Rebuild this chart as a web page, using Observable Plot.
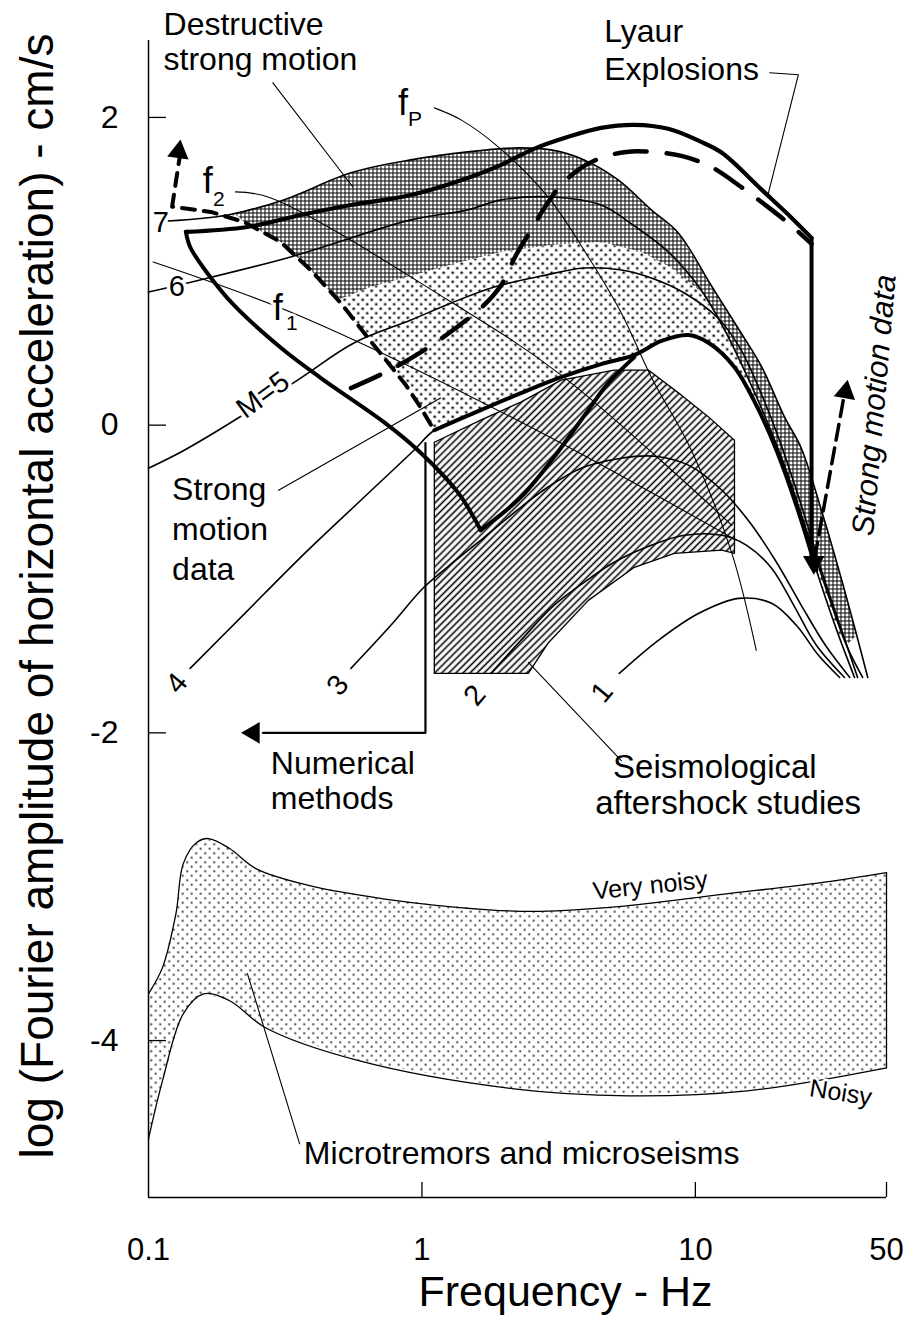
<!DOCTYPE html>
<html>
<head>
<meta charset="utf-8">
<script src="https://cdn.jsdelivr.net/npm/d3@7"></script>
<script src="https://cdn.jsdelivr.net/npm/@observablehq/plot@0.6"></script>
<style>
  body { margin: 0; background: #fff; }
  #chart svg { display: block; }
</style>
</head>
<body>
<div id="chart"></div>
<script>
// ---- Source spectra for magnitudes 1–7: [frequency Hz, log amplitude cm/s] ----
const m7 = [[0.118,1.327],[0.195,1.366],[0.312,1.464],[0.55,1.64],[0.911,1.724],[1.47,1.776],[2.25,1.802],[2.97,1.789],[3.92,1.724],[5.22,1.594],[6.90,1.399],[8.66,1.249],[11.4,0.911],[14.7,0.599],[17.5,0.377],[21.2,0.052],[24.4,-0.15],[28.9,-0.553],[34.3,-1.008],[38.9,-1.366],[42.7,-1.64]];
const m6 = [[0.1,0.865],[0.139,0.924],[0.331,1.093],[0.911,1.334],[1.47,1.399],[1.95,1.464],[2.97,1.483],[4.52,1.431],[5.98,1.295],[7.96,1.126],[10.5,0.878],[12.8,0.618],[15.4,0.325],[18.2,0.033],[21.5,-0.293],[25.5,-0.683],[30.2,-1.074],[35.7,-1.431],[40.9,-1.64]];
const m5 = [[0.1,-0.28],[0.131,-0.176],[0.18,-0.033],[0.351,0.293],[0.564,0.534],[0.911,0.683],[1.28,0.794],[1.84,0.898],[2.73,0.969],[3.92,1.021],[5.36,1.008],[6.90,0.956],[9.11,0.859],[12.1,0.696],[14.7,0.488],[17.5,0.195],[20.6,-0.13],[24.4,-0.521],[28.9,-0.943],[34.3,-1.334],[39.2,-1.64]];
const m4 = [[0.142,-1.581],[0.227,-1.217],[0.36,-0.859],[0.598,-0.488],[0.935,-0.163],[1.11,-0.033],[1.64,0.098],[2.30,0.208],[3.23,0.312],[4.52,0.397],[5.98,0.455],[7.51,0.547],[9.43,0.586],[11.2,0.534],[13.9,0.377],[16.7,0.13],[19.8,-0.163],[23.4,-0.521],[27.7,-0.943],[32.9,-1.334],[38.2,-1.64]];
const m3 = [[0.55,-1.581],[0.77,-1.301],[1.017,-1.054],[1.33,-0.878],[1.69,-0.729],[2.30,-0.534],[2.85,-0.41],[3.82,-0.28],[5.36,-0.215],[7.08,-0.202],[9.43,-0.26],[12.5,-0.423],[15.8,-0.631],[19.8,-0.891],[24.4,-1.171],[29.9,-1.431],[36.7,-1.64]];
const m2 = [[1.79,-1.614],[2.30,-1.399],[3.04,-1.171],[4.16,-0.989],[5.05,-0.891],[6.90,-0.781],[9.11,-0.716],[12.5,-0.716],[15.4,-0.781],[19.0,-0.93],[22.9,-1.171],[27.7,-1.431],[35.1,-1.64]];
const m1 = [[5.27,-1.614],[7.32,-1.399],[10.3,-1.223],[14.4,-1.126],[19.0,-1.158],[23.4,-1.301],[28.2,-1.496],[33.7,-1.64]];

// ---- Lower edge of the destructive strong-motion band ----
const destructiveLower = [[0.212,1.361],[0.223,1.321],[0.304,1.191],[0.392,1.008],[0.492,0.813],[0.651,0.898],[0.911,0.969],[1.39,1.061],[1.95,1.126],[2.97,1.171],[4.52,1.191],[6.34,1.126],[8.17,1.021],[10.5,0.865],[12.8,0.618],[15.4,0.325],[18.2,0.033],[21.5,-0.293],[25.5,-0.683],[30.2,-1.074],[35.7,-1.431]];

// ---- Strong motion data outline ----
const smLeft = [[0.137,1.256],[0.142,1.158],[0.164,0.989],[0.205,0.781],[0.312,0.488],[0.427,0.306],[0.726,0.02],[0.967,-0.163],[1.36,-0.442],[1.64,-0.683]];
const smRise = [[1.64,-0.683],[2.30,-0.468],[3.04,-0.208],[4.06,0.098],[4.80,0.273],[5.98,0.442]];
const smDashed = [[0.131,1.78],[0.122,1.42],[0.169,1.386],[0.223,1.321],[0.304,1.191],[0.392,1.008],[0.505,0.794],[0.623,0.586],[0.738,0.423],[0.874,0.26],[0.992,0.111],[1.08,0.0]];
const smArrow = [[27.3,-0.865],[35.4,0.241]];

// ---- Lyaur explosions ----
const lyaurSolid = [[0.137,1.256],[0.23,1.288],[0.36,1.366],[0.55,1.431],[0.911,1.496],[1.47,1.607],[1.95,1.692],[2.57,1.796],[3.43,1.874],[4.52,1.932],[5.98,1.952],[7.96,1.926],[10.5,1.841],[12.5,1.77],[17.5,1.529],[22.5,1.347],[26.6,1.217]];
const lyaurDashed = [[0.55,0.241],[0.738,0.345],[0.992,0.475],[1.33,0.631],[1.69,0.781],[1.95,0.911],[2.21,1.106],[2.51,1.269],[2.85,1.431],[3.23,1.561],[3.82,1.672],[4.52,1.737],[5.59,1.776],[6.90,1.776],[8.89,1.75],[11.4,1.679],[14.7,1.548],[18.2,1.425],[22.5,1.295],[26.6,1.178]];
const lyaurEdge = [[26.6,1.217],[26.6,-0.85]];

// ---- Seismological aftershock studies (hatched box) ----
const aftershock = [[1.11,-0.111],[1.64,0.033],[2.30,0.15],[3.23,0.293],[5.05,0.358],[6.73,0.358],[8.89,0.195],[11.2,0.052],[13.9,-0.098],[13.9,-0.833],[12.5,-0.813],[8.38,-0.833],[5.98,-0.924],[4.06,-1.139],[2.89,-1.418],[2.45,-1.614],[1.11,-1.614],[1.11,-0.111]];

// ---- Numerical methods limit ----
const numerical = [[1.03,-0.117],[1.03,-2.0],[0.262,-2.0]];

// ---- Microtremors and microseisms band ----
const veryNoisy = [[0.1,-3.696],[0.1125,-3.526],[0.126,-3.175],[0.134,-2.85],[0.15,-2.713],[0.166,-2.687],[0.198,-2.752],[0.247,-2.882],[0.382,-2.99],[0.732,-3.08],[1.76,-3.15],[2.71,-3.16],[5.22,-3.13],[12.5,-3.05],[29.7,-2.97],[50,-2.908]];
const noisy = [[0.1,-4.639],[0.1125,-4.262],[0.134,-3.826],[0.159,-3.696],[0.198,-3.741],[0.268,-3.917],[0.587,-4.131],[2.17,-4.314],[5.68,-4.359],[15.5,-4.327],[50,-4.177]];

// ---- Corner-frequency loci and leader lines ----
const fpLine = [[1.11,2.062],[1.39,1.984],[1.90,1.809],[2.89,1.483],[4.06,1.093],[5.36,0.729],[6.90,0.312],[9.67,-0.163],[13.6,-0.833],[16.7,-1.464]];
const f2Line = [[0.208,1.516],[0.28,1.477],[1.245,0.813],[3.23,0.325],[13.6,-0.651]];
const f1Line = [[0.104,1.061],[0.351,0.716],[2.30,0.02],[14.1,-0.748]];
const leaders = [
  [[0.285,2.225],[0.559,1.548]],
  [[18.7,2.29],[23.8,2.277],[18.5,1.509]],
  [[0.299,-0.423],[1.17,0.176]],
  [[5.36,-2.18],[2.45,-1.542]],
  [[0.357,-4.671],[0.23,-3.565]]
];

// ---- Arrowheads: [frequency, log amplitude, direction in degrees] ----
const arrowHeads = [[0.129,1.776,8],[0.242,-2.0,-90],[35.4,0.215,10],[27.1,-0.891,180]];

// ---- Labels ----
const notes = [
  {t: "Destructive", f: 0.1135, v: 2.602},
  {t: "strong motion", f: 0.1135, v: 2.375},
  {t: "Lyaur", f: 4.64, v: 2.557},
  {t: "Explosions", f: 4.64, v: 2.31},
  {t: "Strong", f: 0.122, v: -0.423},
  {t: "motion", f: 0.122, v: -0.683},
  {t: "data", f: 0.122, v: -0.943},
  {t: "Numerical", f: 0.28, v: -2.199},
  {t: "methods", f: 0.28, v: -2.427},
  {t: "Microtremors and microseisms", f: 0.37, v: -4.737}
];
const notesBig = [
  {t: "Seismological", f: 5.0, v: -2.222},
  {t: "aftershock studies", f: 4.3, v: -2.462}
];
const curveLabels = [
  {t: "7", f: 0.111, v: 1.314, r: 0},
  {t: "6", f: 0.127, v: 0.898, r: 0},
  {t: "M=5", f: 0.262, v: 0.195, r: -36},
  {t: "4", f: 0.127, v: -1.679, r: -50},
  {t: "3", f: 0.492, v: -1.692, r: -50},
  {t: "2", f: 1.56, v: -1.757, r: -50},
  {t: "1", f: 4.56, v: -1.737, r: -50}
];
const fLetters = [{t: "f", f: 0.817, v: 2.089}, {t: "f", f: 0.158, v: 1.584}, {t: "f", f: 0.285, v: 0.758}];
const fSubs = [{t: "P", f: 0.889, v: 1.991}, {t: "2", f: 0.172, v: 1.47}, {t: "1", f: 0.318, v: 0.66}];
const noiseLabels = [{t: "Very noisy", f: 6.84, v: -2.993, r: -6}, {t: "Noisy", f: 34.0, v: -4.34, r: 9}];

const xTicks = [0.1, 1, 10, 50];
const yTicks = [2, 0, -2, -4];

// ---- helpers ----
const pts = arr => arr.map(([f, v]) => ({f, v}));
const ring = (...parts) => pts(parts.flat());
const rev = a => a.slice().reverse();
const thin = (arr, o = {}) => Plot.line(pts(arr), {x: "f", y: "v", curve: "catmull-rom", stroke: "black", strokeWidth: 1.6, ...o});

// placeholder colours, swapped for SVG patterns after rendering
const FILL_DOTS = "#010101", FILL_SCREEN = "#020202", FILL_HATCH = "#030303", FILL_NOISE = "#040404";

const destructiveRing = ring(m7.filter(d => d[0] >= 0.19 && d[0] <= 38.9), rev(destructiveLower));
const motionRing = ring(destructiveLower.filter(d => d[0] >= 0.49),
  rev(m4.filter(d => d[0] >= 1.11 && d[0] <= 33)),
  rev(smDashed.filter(d => d[0] >= 0.5 && d[1] < 1.0)));
const noiseRing = ring(veryNoisy, rev(noisy));

const font = "'Liberation Sans', Arial, Helvetica, sans-serif";

const chart = Plot.plot({
  width: 912,
  height: 1323,
  marginLeft: 148,
  marginRight: 26,
  marginTop: 40,
  marginBottom: 126,
  style: {fontFamily: font, fontSize: "32px", background: "white", color: "black"},
  x: {type: "log", domain: [0.1, 50], axis: null},
  y: {domain: [-5.02, 2.5], axis: null},
  marks: [
    // shaded regions
    Plot.line(noiseRing, {x: "f", y: "v", fill: FILL_NOISE, stroke: "none", curve: "linear"}),
    Plot.line(pts(aftershock), {x: "f", y: "v", fill: FILL_HATCH, stroke: "black", strokeWidth: 1.3, curve: "linear"}),
    Plot.line(destructiveRing, {x: "f", y: "v", fill: FILL_SCREEN, stroke: "none", curve: "linear"}),
    Plot.line(motionRing, {x: "f", y: "v", fill: FILL_DOTS, stroke: "none", curve: "linear"}),

    // microtremor band edges
    thin(veryNoisy, {strokeWidth: 1.3}),
    thin(noisy, {strokeWidth: 1.3}),
    thin([[50, -2.908], [50, -4.177]], {strokeWidth: 1.3, curve: "linear"}),

    // magnitude spectra
    thin(m7), thin(m6), thin(m5), thin(m4), thin(m3), thin(m2), thin(m1),

    // corner-frequency loci and leaders
    thin(fpLine, {strokeWidth: 1.1}),
    thin(f2Line, {strokeWidth: 1.1}),
    thin(f1Line, {strokeWidth: 1.1}),
    ...leaders.map(l => thin(l, {strokeWidth: 1.1, curve: "linear"})),

    // strong motion data outline
    thin(smLeft, {strokeWidth: 4}),
    thin(smRise, {strokeWidth: 4}),
    thin(m4.filter(d => d[0] >= 1.1 && d[0] <= 27.7), {strokeWidth: 4}),
    thin(smDashed, {strokeWidth: 4, strokeDasharray: "13,9", curve: "linear"}),
    thin(smArrow, {strokeWidth: 3.5, strokeDasharray: "16,8", curve: "linear"}),

    // Lyaur explosions
    thin(lyaurSolid, {strokeWidth: 4.2}),
    thin(lyaurDashed, {strokeWidth: 4.5, strokeDasharray: "32,20"}),
    thin(lyaurEdge, {strokeWidth: 4, curve: "linear"}),

    // numerical methods limit
    thin(numerical, {strokeWidth: 2.2, curve: "linear"}),

    // arrowheads
    Plot.dot(arrowHeads.map(([f, v, r]) => ({f, v, r})),
      {x: "f", y: "v", symbol: "triangle", r: 8, fill: "black", stroke: "none", rotate: "r"}),

    // axes
    Plot.ruleX([0.1], {y1: -5.02, y2: 2.5, strokeWidth: 1.5}),
    Plot.ruleY([-5.02], {x1: 0.1, x2: 50, strokeWidth: 1.5}),
    Plot.tickY(yTicks, {y: d => d, insetRight: 720, strokeWidth: 1.3}),
    Plot.tickX([1, 10, 50], {x: d => d, insetTop: 1142, strokeWidth: 1.3}),
    Plot.text(yTicks, {y: d => d, text: d => String(d), frameAnchor: "left", dx: -30, textAnchor: "end", fontSize: 32}),
    Plot.text(xTicks, {x: d => d, text: d => String(d), frameAnchor: "bottom", dy: 62, fontSize: 31}),
    Plot.text(["Frequency - Hz"], {text: d => d, frameAnchor: "bottom", dx: 48, dy: 108, fontSize: 43}),
    Plot.text(["log (Fourier amplitude of horizontal acceleration) - cm/s"],
      {text: d => d, frameAnchor: "left", textAnchor: "middle", rotate: -90, dx: -110, dy: -23, fontSize: 46}),

    // annotations
    Plot.text(notes, {x: "f", y: "v", text: "t", textAnchor: "start", fontSize: 32}),
    Plot.text(notesBig, {x: "f", y: "v", text: "t", textAnchor: "start", fontSize: 33}),
    Plot.text(curveLabels, {x: "f", y: "v", text: "t", rotate: "r", fontSize: 29,
      stroke: "white", strokeWidth: 7, fill: "black", paintOrder: "stroke"}),
    Plot.text(fLetters, {x: "f", y: "v", text: "t", textAnchor: "start", fontSize: 36,
      stroke: "white", strokeWidth: 6, fill: "black", paintOrder: "stroke"}),
    Plot.text(fSubs, {x: "f", y: "v", text: "t", textAnchor: "start", fontSize: 21,
      stroke: "white", strokeWidth: 5, fill: "black", paintOrder: "stroke"}),
    Plot.text(noiseLabels, {x: "f", y: "v", text: "t", rotate: "r", fontSize: 25,
      stroke: "white", strokeWidth: 5, fill: "black", paintOrder: "stroke"}),
    Plot.text([{t: "Strong motion data", f: 45.2, v: 0.13}],
      {x: "f", y: "v", text: "t", rotate: -85, fontSize: 31, fontStyle: "italic"})
  ]
});

// fill patterns for the shaded regions
const root = d3.select(chart);
root.insert("defs", ":first-child").html(`
  <pattern id="pat-dots" patternUnits="userSpaceOnUse" width="9" height="9">
    <rect width="9" height="9" fill="#fff"/>
    <circle cx="2.2" cy="2.2" r="1.25" fill="#000"/><circle cx="6.7" cy="6.7" r="1.25" fill="#000"/>
  </pattern>
  <pattern id="pat-screen" patternUnits="userSpaceOnUse" width="4" height="4">
    <rect width="4" height="4" fill="#fff"/>
    <rect width="4" height="1" fill="#000"/><rect width="1" height="4" fill="#000"/>
  </pattern>
  <pattern id="pat-hatch" patternUnits="userSpaceOnUse" width="5" height="5" patternTransform="rotate(45)">
    <rect width="5" height="5" fill="#fff"/>
    <line x1="2.5" y1="0" x2="2.5" y2="5" stroke="#000" stroke-width="1.6"/>
  </pattern>
  <pattern id="pat-noise" patternUnits="userSpaceOnUse" width="9" height="9">
    <rect width="9" height="9" fill="#fff"/>
    <circle cx="2.2" cy="2.2" r="0.95" fill="#000"/><circle cx="6.7" cy="6.7" r="0.95" fill="#000"/>
  </pattern>`);
const swap = {"#010101": "pat-dots", "#020202": "pat-screen", "#030303": "pat-hatch", "#040404": "pat-noise"};
root.selectAll("[fill]").each(function () {
  const c = d3.color(this.getAttribute("fill"));
  if (!c) return;
  const key = c.formatHex();
  if (swap[key]) this.setAttribute("fill", `url(#${swap[key]})`);
});

document.getElementById("chart").append(chart);
</script>
</body>
</html>
